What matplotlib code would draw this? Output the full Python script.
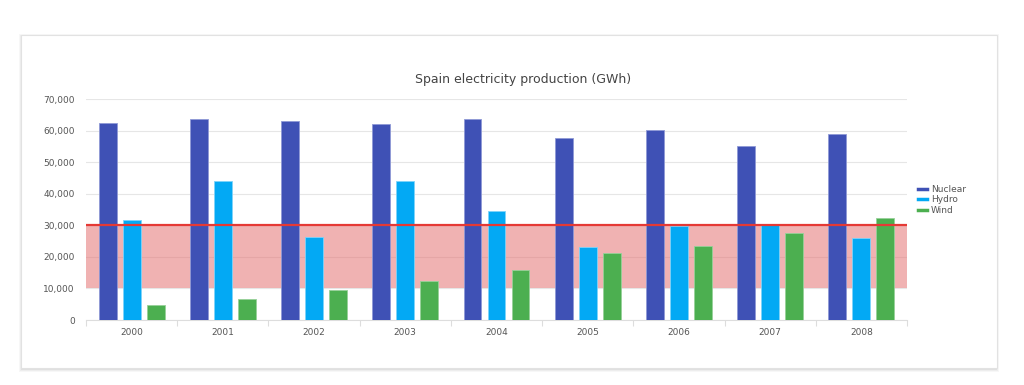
import matplotlib.pyplot as plt
import numpy as np
from matplotlib.patches import Rectangle
from matplotlib.lines import Line2D

# data
years = ["2000", "2001", "2002", "2003", "2004", "2005", "2006", "2007", "2008"]
nuclear = [62300, 63700, 63150, 62000, 63800, 57650, 60100, 55000, 58900]
hydro = [31700, 43950, 26400, 44000, 34400, 23100, 29850, 30400, 26100]
wind = [4850, 6750, 9400, 12250, 15750, 21100, 23300, 27650, 32200]

band_low, band_high = 10000, 30000
y_ticks = [0, 10000, 20000, 30000, 40000, 50000, 60000, 70000]

colors = {"Nuclear": "#3F51B5", "Hydro": "#03A9F4", "Wind": "#4CAF50"}
edges = {"Nuclear": "#8F99D6", "Hydro": "#7FD3F9", "Wind": "#97D199"}

fig = plt.figure(figsize=(10.24, 3.85), dpi=100)
fig.patch.set_facecolor("white")

# card with a soft shadow
W, H = 1024, 385
for i, a in enumerate([0.05, 0.04, 0.03]):
    fig.patches.append(Rectangle(((21 - i) / W, 1 - (369 + 1 + i) / H), (976 + 2 * i) / W, (334 + 2 * i) / H,
                                 transform=fig.transFigure, facecolor="#000000", alpha=a,
                                 edgecolor="none", zorder=0))
fig.patches.append(Rectangle((21 / W, 1 - 368 / H), 976 / W, 333 / H, transform=fig.transFigure,
                             facecolor="white", edgecolor="#E2E2E2", linewidth=0.8, zorder=1))

ax = fig.add_axes([86 / W, 1 - 320 / H, 821 / W, 221 / H])
ax.set_facecolor("none")
ax.set_zorder(2)

x = np.arange(len(years))
bw = 0.197
step = 0.263
series = [("Nuclear", nuclear), ("Hydro", hydro), ("Wind", wind)]
for k, (name, vals) in enumerate(series):
    ax.bar(x + (k - 1) * step, vals, width=bw, color=colors[name], edgecolor=edges[name],
           linewidth=0.6, zorder=3)

# red band and threshold line
ax.axhspan(band_low, band_high, color="#E57373", alpha=0.55, linewidth=0, zorder=2)
ax.axhline(band_high, color="#E53935", linewidth=1.6, zorder=4)

ax.set_xlim(-0.5, len(years) - 0.5)
ax.set_ylim(0, 70000)
ax.set_yticks(y_ticks)
ax.set_yticklabels([f"{v:,}" for v in y_ticks])
ax.grid(axis="y", color="#E6E6E6", linewidth=0.8, zorder=1)
ax.set_axisbelow(True)

ax.set_xticks(x)
ax.set_xticklabels(years)
ax.set_xticks(np.arange(len(years) + 1) - 0.5, minor=True)
ax.tick_params(axis="x", which="major", length=0, pad=6, labelsize=6.5, labelcolor="#555555")
ax.tick_params(axis="x", which="minor", length=4, color="#DDDDDD", width=0.8)
ax.tick_params(axis="y", length=0, pad=8, labelsize=6.5, labelcolor="#555555")

for s in ["top", "right", "left"]:
    ax.spines[s].set_visible(False)
ax.spines["bottom"].set_color("#DDDDDD")
ax.spines["bottom"].set_linewidth(0.8)

fig.text(523 / W, 1 - 79 / H, "Spain electricity production (GWh)", ha="center", va="center",
         fontsize=9, color="#444444", zorder=5)

handles = [Line2D([0], [0], color=colors[n], linewidth=2.5) for n, _ in series]
fig.legend(handles, [n for n, _ in series], loc="center left", bbox_to_anchor=(910 / W, 1 - 200 / H),
           frameon=False, fontsize=6.5, handlelength=1.0, handletextpad=0.4, labelspacing=0.15,
           labelcolor="#555555")

fig.savefig("out.png", dpi=100)
